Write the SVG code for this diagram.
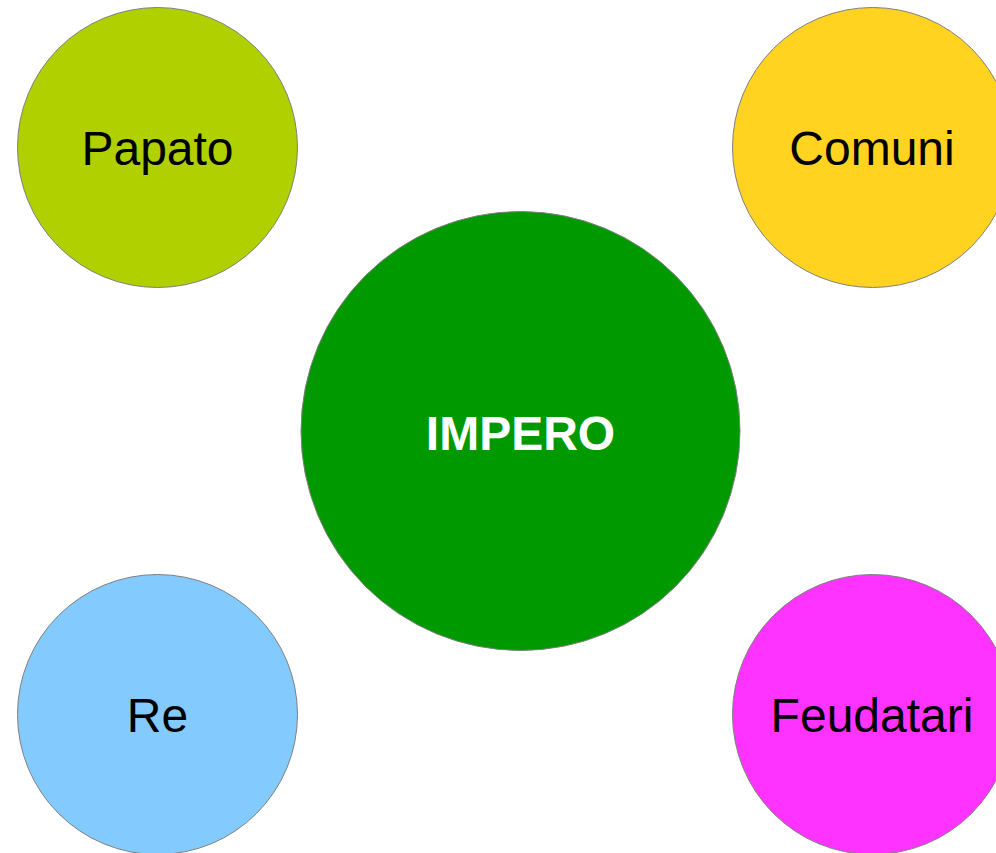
<svg xmlns="http://www.w3.org/2000/svg" width="996" height="853" viewBox="0 0 996 853">
<style>
circle{stroke:#7f7f7f;stroke-width:1}
text{font-family:"Liberation Sans",Arial,sans-serif;font-size:48px;text-anchor:middle;fill:#000}
.b{font-weight:bold;fill:#fff;font-size:48px}
</style>
<rect width="996" height="853" fill="#fff"/>
<g id="papato"><circle cx="157.5" cy="147.5" r="140" fill="#b0d000"/><text x="157.5" y="165">Papato</text></g>
<g id="comuni"><circle cx="872.5" cy="147.5" r="140" fill="#ffd320"/><text x="872" y="165">Comuni</text></g>
<g id="impero"><circle cx="520.5" cy="431" r="219.5" fill="#009900"/><text class="b" x="520.5" y="449.5">IMPERO</text></g>
<g id="re"><circle cx="157.5" cy="714.5" r="140" fill="#83caff"/><text x="157.5" y="732">Re</text></g>
<g id="feudatari"><circle cx="872.5" cy="714.5" r="140" fill="#ff33ff"/><text x="872" y="732">Feudatari</text></g>
<g id="connectors"></g>
</svg>
